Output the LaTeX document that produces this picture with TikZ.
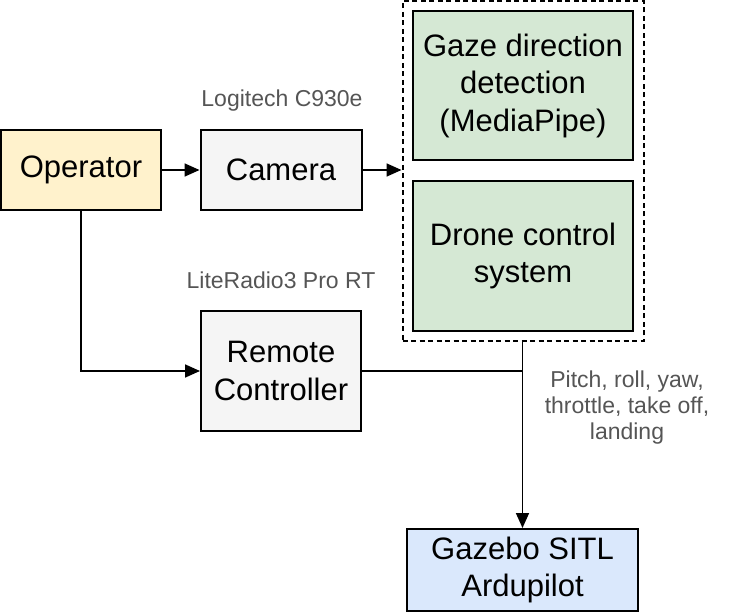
\documentclass[tikz,border=0pt]{standalone}
\usepackage{fontspec}
\setmainfont{Liberation Sans}
\usetikzlibrary{arrows.meta,fit}

\definecolor{opyellow}{HTML}{FFF2CC}
\definecolor{devgray}{HTML}{F5F5F5}
\definecolor{procgreen}{HTML}{D5E8D4}
\definecolor{simblue}{HTML}{DAE8FC}
\definecolor{notegray}{HTML}{555555}

\tikzset{
  block/.style={draw, line width=2pt, align=center, inner sep=0pt,
    font=\fontsize{31}{37.5}\selectfont},
  note/.style={text=notegray, align=center, font=\fontsize{23}{26}\selectfont},
  link/.style={line width=1.7pt, -{Triangle[length=15pt,width=13pt]}},
}

\begin{document}
\begin{tikzpicture}[x=1pt, y=-1pt]
    \useasboundingbox (0,0) rectangle (742,612);

    % Inputs
    \node[block, fill=opyellow, minimum width=160pt, minimum height=80pt] (operator) at (81,170) {Operator};
    \node[block, fill=devgray, minimum width=161pt, minimum height=80pt] (camera) at (281,170) {Camera};
    \node[note] (camlabel) at (282,101) {Logitech C930e};
    \node[block, fill=devgray, minimum width=160pt, minimum height=120pt] (remote) at (281,371) {Remote\\Controller};
    \node[note] (rclabel) at (281,280) {LiteRadio3 Pro RT};

    % Processing (dashed group)
    \node[block, fill=procgreen, minimum width=220pt, minimum height=149pt] (gaze) at (523,85.5) {Gaze direction\\detection\\(MediaPipe)};
    \node[block, fill=procgreen, minimum width=220pt, minimum height=150pt] (drone) at (523,256) {Drone control\\system};
    \node[draw, line width=2pt, dash pattern=on 5pt off 3.5pt, inner xsep=9.5pt, inner ysep=9pt,
          fit=(gaze)(drone)] (group) {};

    % Simulator
    \node[block, fill=simblue, minimum width=231pt, minimum height=82pt] (gazebo) at (522.5,570) {Gazebo SITL\\Ardupilot};
    \node[note] (cmdlabel) at (627,408) {Pitch, roll, yaw,\\throttle, take off,\\landing};

    % Connectors
    \draw[link] (operator) -- (camera);
    \draw[link] (camera.east) -- (camera.east -| group.west);
    \draw[link] (operator.south) |- (remote.west);
    \coordinate (join) at (remote.east -| gazebo.north);
    \draw[line width=1.5pt] (remote.east) -- (join);
    \draw[link] (group.south -| gazebo.north) -- (gazebo.north);
\end{tikzpicture}
\end{document}
